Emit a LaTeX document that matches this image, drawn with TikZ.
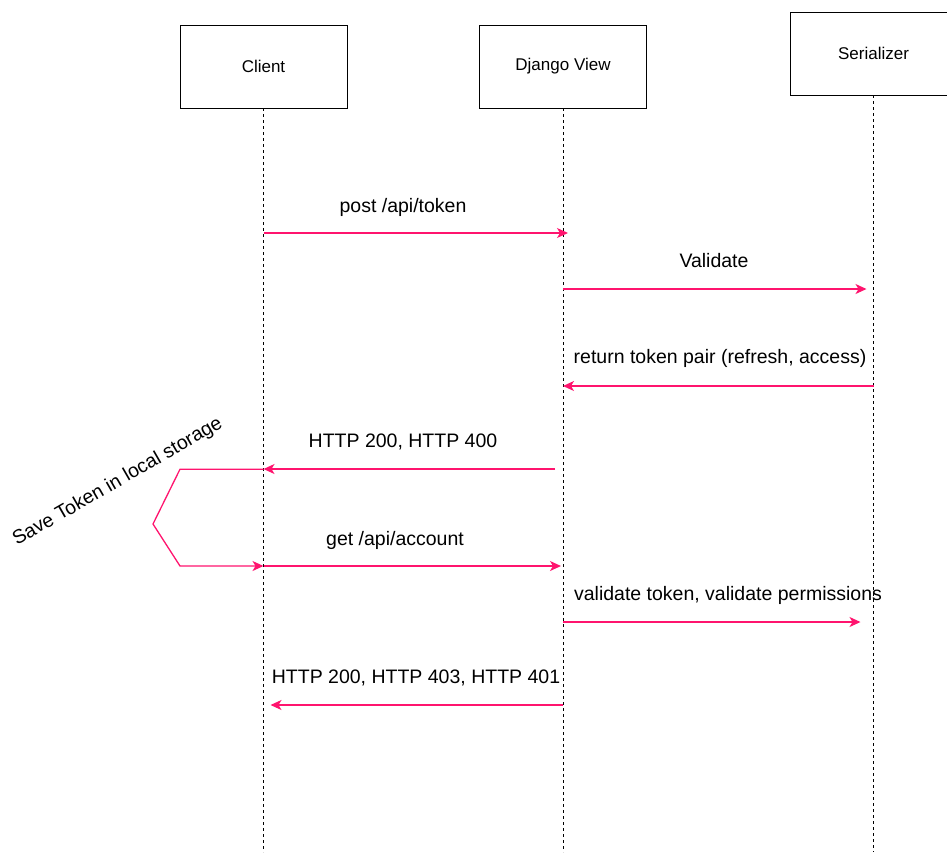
\documentclass[tikz,border=0pt]{standalone}
\usepackage{fontspec}
\setmainfont{Liberation Sans}
\usetikzlibrary{arrows.meta}
\definecolor{msgpink}{RGB}{255,20,110}
\tikzstyle{actor} =
        [
                rectangle,
                draw,
                line width = 1pt,
                fill = white,
                minimum width = 167pt,
                minimum height = 83pt,
                font = \fontsize{17}{20}\selectfont
        ]
\tikzstyle{lifeline} =
        [
                line width = 0.8pt,
                dash pattern = on 3pt off 3pt
        ]
\tikzstyle{line} =
        [
                line width = 1.3pt,
                draw = msgpink,
                -{Stealth[length=11pt,width=10pt,inset=3pt]}
        ]
\tikzstyle{msg} =
        [
                font = \fontsize{19.5}{23}\selectfont,
                text height = 0.72em,
                text depth = 0.2em,
                inner sep = 0pt
        ]

\begin{document}
\begin{tikzpicture}[x=1pt,y=-1pt]
    \useasboundingbox (0,0) rectangle (947,852);
    % lifelines
    \draw [lifeline] (263,108) -- (263,852);
    \draw [lifeline] (563,108) -- (563,852);
    \draw [lifeline] (873,95) -- (873,852);
    \node [actor] (client) at (263.5,66.5) {Client};
    \node [actor] (view) at (563,66.5) {Django View};
    \node [actor] (serializer) at (873.5,53.5) {Serializer};
    % loop back to the client
    \coordinate (loopa) at (180,469.2);
    \coordinate (loopb) at (153,524);
    \coordinate (loopc) at (180,566);
     \path [line] (client |- 0,233) -- ([xshift=5pt]view |- 0,233);
     \path [line] (view |- 0,289) -- ([xshift=-7pt]serializer |- 0,289);
     \path [line] (serializer |- 0,386) -- (view |- 0,386);
     \path [line] ([xshift=-8pt]view |- 0,469) -- (client |- 0,469);
     \path [line] (client |- loopa) -- (loopa) -- (loopb) -- (loopc) -- (client |- loopc);
     \path [line] (client |- 0,566) -- ([xshift=-2pt]view |- 0,566);
     \path [line] (view |- 0,622) -- ([xshift=-13pt]serializer |- 0,622);
     \path [line] (view |- 0,705) -- ([xshift=7pt]client |- 0,705);
    \node [msg] (m1) at (403,210) {post /api/token};
    \node [msg] (m2) at (714,265) {Validate};
    \node [msg] (m3) at (720,361) {return token pair (refresh, access)};
    \node [msg] (m4) at (403,445) {HTTP 200, HTTP 400};
    \node [msg] (m5) at (395,543) {get /api/account};
    \node [msg] (m6) at (728,598) {validate token, validate permissions};
    \node [msg] (m7) at (416,681) {HTTP 200, HTTP 403, HTTP 401};
    \node [msg, rotate=30] (save) at (119,484) {Save Token in local storage};
\end{tikzpicture}
\end{document}
